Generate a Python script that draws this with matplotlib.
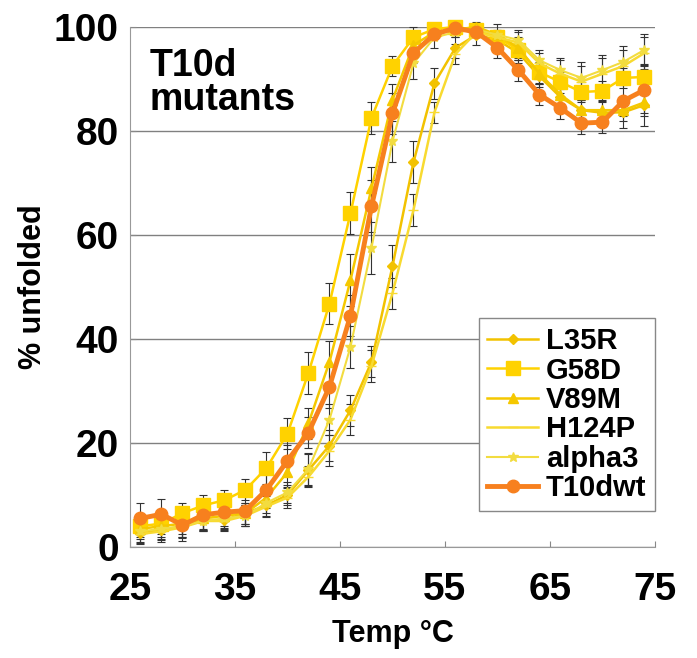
import numpy as np
import matplotlib.pyplot as plt

plt.rcParams['font.family'] = ['Liberation Sans', 'DejaVu Sans']
plt.rcParams['font.weight'] = 'bold'

# temperatures (deg C)
temp = [26, 28, 30, 32, 34, 36, 38, 40, 42, 44, 46, 48, 50,
        52, 54, 56, 58, 60, 62, 64, 66, 68, 70, 72, 74]

# % unfolded
l35r = [2.7, 3.3, 4.0, 5.2, 5.2, 6.5, 8.0, 10.0, 14.8, 19.5, 26.3, 35.6, 54.0,
        74.0, 89.2, 96.0, 98.5, 97.5, 95.0, 90.5, 86.5, 84.0, 83.5, 83.6, 85.0]
g58d = [4.0, 4.5, 6.5, 8.0, 9.0, 11.0, 15.2, 21.8, 33.5, 46.8, 64.2, 82.5, 92.5,
        98.0, 99.6, 100.0, 99.4, 98.0, 95.6, 91.3, 89.4, 87.5, 87.7, 90.2, 90.4]
v89m = [3.5, 4.0, 4.5, 5.5, 6.0, 6.5, 9.5, 14.4, 23.8, 35.6, 51.3, 69.0, 86.0,
        96.5, 99.0, 99.5, 100.0, 98.5, 96.0, 91.0, 87.0, 84.0, 84.0, 84.0, 85.5]
h124p = [2.5, 3.0, 3.8, 5.0, 5.0, 6.0, 7.8, 9.5, 13.5, 18.5, 24.5, 34.8, 48.8,
         64.8, 83.6, 94.8, 99.0, 98.0, 97.0, 93.0, 91.0, 89.5, 91.0, 92.5, 95.0]
alpha3 = [3.0, 3.5, 4.0, 5.0, 5.5, 6.0, 8.5, 10.5, 15.0, 24.5, 38.5, 57.5, 78.0,
          93.0, 98.0, 99.0, 99.5, 98.5, 97.5, 93.6, 91.7, 90.2, 91.7, 93.3, 95.6]
t10dwt = [5.5, 6.3, 4.2, 6.2, 6.7, 7.0, 11.0, 16.6, 22.0, 30.8, 44.5, 65.5, 83.4,
          95.0, 98.6, 99.8, 99.0, 96.0, 91.7, 87.0, 84.4, 81.5, 81.7, 85.8, 87.9]

# error bar half-widths
l35r_err = [2, 2, 2, 2, 2, 2, 2, 2, 3, 3, 3, 3, 4,
            4, 3, 2, 2, 2, 2, 2, 2, 2, 2, 3, 4]
g58d_err = [2, 2, 2, 2, 2, 2, 3, 3, 4, 4, 4, 3, 2,
            2, 1, 1, 1, 1, 2, 2, 2, 2, 2, 2, 2]
v89m_err = [2, 2, 2, 2, 2, 2, 2, 3, 3, 4, 5, 4, 3,
            2, 1, 1, 1, 2, 2, 2, 2, 2, 2, 2, 2]
h124p_err = [2, 2, 2, 2, 2, 2, 2, 2, 2, 3, 3, 3, 3,
             3, 2, 2, 1, 1, 2, 2, 3, 3, 3, 3, 3]
alpha3_err = [2, 2, 2, 2, 2, 2, 2, 2, 3, 3, 4, 5, 4,
              3, 2, 1, 1, 1, 2, 2, 2, 3, 3, 3, 3]
t10dwt_err = [3, 3, 3, 3, 3, 3, 3, 3, 3, 4, 4, 5, 4,
              2, 1, 1, 1, 2, 2, 2, 2, 2, 2, 3, 5]

series = [
    ('L35R', l35r, l35r_err, '#F2C200', 'D', 5, 1.8),
    ('G58D', g58d, g58d_err, '#FFD200', 's', 10, 1.8),
    ('V89M', v89m, v89m_err, '#F5C800', '^', 7, 1.8),
    ('H124P', h124p, h124p_err, '#F8DA30', '_', 7, 1.8),
    ('alpha3', alpha3, alpha3_err, '#F2DC40', '*', 7, 1.5),
    ('T10dwt', t10dwt, t10dwt_err, '#F7801E', 'o', 9, 3.5),
]

fig, ax = plt.subplots(figsize=(6.97, 6.58), dpi=100)
fig.subplots_adjust(left=0.1865, right=0.9397, bottom=0.1687, top=0.959)

for name, vals, err, col, mk, ms, lw in series:
    ax.errorbar(temp, vals, yerr=err, fmt='none', ecolor='#333333',
                elinewidth=0.8, capsize=3, capthick=0.8, zorder=2, clip_on=False)
    ax.plot(temp, vals, color=col, lw=lw, marker=mk, ms=ms, mfc=col, mec=col,
            label=name, zorder=3, clip_on=False)

ax.set_xlim(25, 75)
ax.set_ylim(0, 100)
ax.set_xticks([25, 35, 45, 55, 65, 75])
ax.set_yticks([0, 20, 40, 60, 80, 100])
ax.tick_params(axis='both', labelsize=28, color='#888888', length=4, direction='in')
ax.tick_params(axis='x', pad=18)
ax.tick_params(axis='y', pad=8)
ax.yaxis.grid(True, color='#808080', lw=1)
ax.set_axisbelow(True)
for s in ['top', 'right']:
    ax.spines[s].set_visible(False)
for s in ['left', 'bottom']:
    ax.spines[s].set_color('#999999')

ax.set_xlabel('Temp °C', fontsize=22, fontweight='bold', labelpad=8)
ax.set_ylabel('% unfolded', fontsize=22, fontweight='bold', labelpad=4)

ax.text(0.038, 0.96, 'T10d\nmutants', transform=ax.transAxes, fontsize=27,
        fontweight='bold', va='top', ha='left', linespacing=0.92)

leg = ax.legend(loc='lower right', bbox_to_anchor=(1.0, 0.069), borderaxespad=0,
                fontsize=21, handlelength=1.75, handletextpad=0.25,
                labelspacing=0.05, borderpad=0.3, fancybox=False, framealpha=1)
leg.get_frame().set_edgecolor('#888888')
for t in leg.get_texts():
    t.set_fontweight('bold')

plt.savefig('out.png', dpi=100)
